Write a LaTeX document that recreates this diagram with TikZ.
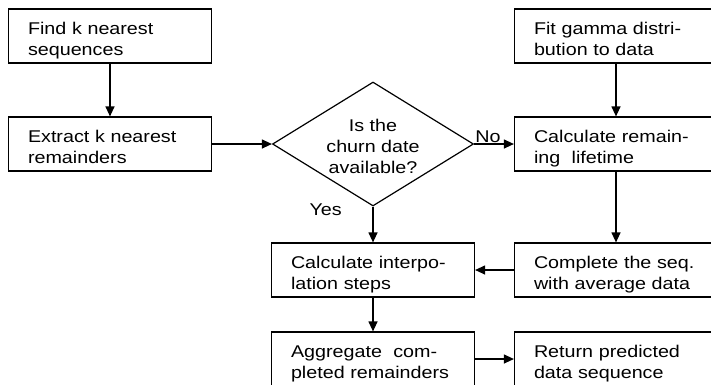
\documentclass[tikz,border=0pt]{standalone}
\usepackage{fontspec}
\setmainfont{Liberation Sans}[FakeStretch=1.16]
\usetikzlibrary{shapes.geometric,arrows.meta}
\begin{document}
\begin{tikzpicture}
        [x=1pt,y=-1pt,
         every node/.style={font=\fontsize{17pt}{21pt}\selectfont},
         procbox/.style={draw,line width=1.2pt,minimum height=54pt,text width=164pt,
           inner xsep=19.5pt,inner ysep=0pt,align=left,text height=17pt,text depth=21pt},
         decision/.style={diamond,draw,line width=1.2pt,aspect=1.62,inner sep=0pt,
           minimum width=201pt,minimum height=124pt,align=center,text height=59pt,text depth=0pt},
         flow/.style={line width=1.2pt,-{Triangle[length=10pt,width=9pt]}},
         lbl/.style={inner sep=1pt,text depth=0pt}]
        \path[use as bounding box,clip] (0,0) rectangle (711,384);

        \node[procbox] (find) at (110,36) {Find k nearest\\sequences};
        \node[procbox] (extract) at (110,144) {Extract k nearest\\remainders};
        \node[decision] (churn) at (373,144) {Is the\\churn date\\available?};
        \node[procbox] (gamma) at (616,36) {Fit gamma distri-\\bution to data};
        \node[procbox] (remain) at (616,144) {Calculate remain-\\ing\ \ lifetime};
        \node[procbox] (complete) at (616,270) {Complete the seq.\\with average data};
        \node[procbox] (interp) at (373,270) {Calculate interpo-\\lation steps};
        \node[procbox] (aggr) at (373,359) {Aggregate\ \ com-\\pleted remainders};
        \node[procbox] (result) at (616,359) {Return predicted\\data sequence};

        \draw[flow] (find) -- (extract);
        \draw[flow] (extract) -- (churn.west);
        \draw[flow] (churn.east) -- (remain);
        \draw[flow] (churn.south) -- (interp);
        \draw[flow] (gamma) -- (remain);
        \draw[flow] (remain) -- (complete);
        \draw[flow] (complete) -- (interp);
        \draw[flow] (interp) -- (aggr);
        \draw[flow] (aggr) -- (result);

        \node[lbl,anchor=south west] (no) at (churn.east) {No};
        \node[lbl,anchor=base east] (yes) at ([xshift=-30pt,yshift=-9pt]churn.south) {Yes};
      \end{tikzpicture}
\end{document}
